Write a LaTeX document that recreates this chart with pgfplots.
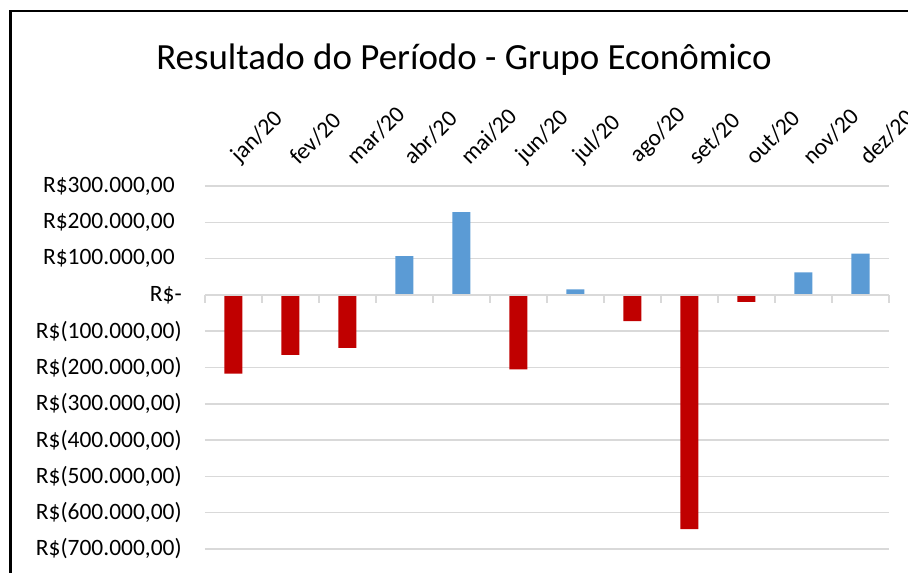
\documentclass[border=0pt]{standalone}
\usepackage{pgfplots}
\pgfplotsset{compat=1.18}
\usepackage{fontspec}
\setmainfont{Carlito}
\definecolor{negred}{HTML}{C00000}
\definecolor{posblue}{HTML}{5B9BD5}
\definecolor{gridgray}{HTML}{D9D9D9}
\begin{document}
\begin{tikzpicture}[x=0.75pt,y=0.75pt]
\begin{axis}[
  at={(0,0)}, anchor=south west,
  scale only axis, width=513pt, height=272.25pt,
  xmin=-0.5, xmax=11.5, ymin=-700000, ymax=300000,
  axis line style={draw=none},
  major tick length=0pt,
  scaled y ticks=false,
  ytick={-700000,-600000,-500000,-400000,-300000,-200000,-100000,0,100000,200000,300000},
  yticklabels={{R\$(700.000,00)},{R\$(600.000,00)},{R\$(500.000,00)},{R\$(400.000,00)},{R\$(300.000,00)},{R\$(200.000,00)},{R\$(100.000,00)},{R\$-\hspace{12.75pt}},{R\$100.000,00\hphantom{)}},{R\$200.000,00\hphantom{)}},{R\$300.000,00\hphantom{)}}},
  yticklabel style={anchor=east, inner sep=0pt, xshift=-17.25pt, font=\fontsize{17.6}{20}\selectfont},
  xtick={0,1,2,3,4,5,6,7,8,9,10,11},
  xticklabels={jan/20,fev/20,mar/20,abr/20,mai/20,jun/20,jul/20,ago/20,set/20,out/20,nov/20,dez/20},
  xticklabel pos=right,
  xticklabel style={xshift=6.75pt, yshift=14.25pt, rotate=45, anchor=south west, inner sep=0pt, font=\fontsize{17.6}{20}\selectfont},
  ymajorgrids, grid style={gridgray, line width=1.1pt},
  clip=false,
]
\addplot[ybar, bar width=13.5pt, bar shift=0pt, fill=negred, draw=none]
  coordinates {(0,-217000) (1,-165000) (2,-146000) (5,-205000) (7,-72000) (8,-645000) (9,-19000)};
\addplot[ybar, bar width=13.5pt, bar shift=0pt, fill=posblue, draw=none]
  coordinates {(3,107000) (4,228000) (6,15000) (10,62000) (11,114000)};
\end{axis}
\begin{axis}[
  at={(0,0)}, anchor=south west,
  scale only axis, width=513pt, height=272.25pt,
  xmin=-0.5, xmax=11.5, ymin=-700000, ymax=300000,
  axis x line=middle, axis y line=none,
  x axis line style={-, draw=gridgray, line width=1.1pt},
  xtick={-0.5,0.5,1.5,2.5,3.5,4.5,5.5,6.5,7.5,8.5,9.5,10.5,11.5},
  xticklabels={}, ytick=\empty,
  xtick align=outside, major tick length=6pt,
  tick style={gridgray, line width=1.1pt},
]
\end{axis}
\node[anchor=base, font=\fontsize{27.7}{32}\selectfont] at (259,479) {Resultado do Período - Grupo Econômico};
\draw[line width=1.9pt, black] (-194.5,-40) -- (-194.5,538) -- (720,538);
\pgfresetboundingbox
\path[use as bounding box] (-205,-23) rectangle (703,549);
\end{tikzpicture}
\end{document}
